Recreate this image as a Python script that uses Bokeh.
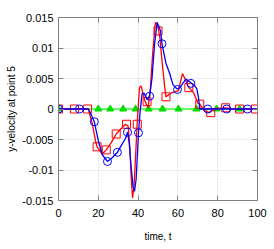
from bokeh.plotting import figure
from bokeh.models import Range1d, FixedTicker, LinearAxis
from bokeh.embed import file_html
from bokeh.resources import INLINE

# red curve (squares)
red_t = [0, 8, 15, 17, 18.6, 19.4, 22, 24, 26.5, 29, 31.5, 33.7, 35, 35.8, 36.5, 37.2, 38, 39, 39.5, 40.7, 41.5, 43.4, 45, 46.2, 47.4, 48.7, 50, 51, 52, 53.4, 54, 57, 60.3, 61.3, 62.3, 63.5, 65.5, 68, 70, 71, 73, 75.5, 79, 84, 88, 91, 99]
red_v = [0, 0, 0, -0.0025, -0.0052, -0.0062, -0.0074, -0.0067, -0.0055, -0.0041, -0.0032, -0.0025, -0.0028, -0.006, -0.011, -0.0146, -0.0125, -0.006, -0.0025, 0.0035, 0.0038, 0.0013, 0.0002, 0.0035, 0.0095, 0.0142, 0.0136, 0.0115, 0.0079, 0.0035, 0.002, 0.0027, 0.003, 0.0045, 0.0058, 0.005, 0.0035, 0.0026, 0.001, 0.0008, -0.0002, -0.0006, 0.0001, 0.0002, 0.0, 0.0, 0.0]
red_mt = [0, 8, 14.6, 19.4, 24, 29, 34.2, 39.6, 44.5, 50, 54, 65.5, 71, 76.5, 84, 91, 99]
red_mv = [0, 0, 0, -0.0062, -0.0067, -0.0041, -0.0025, -0.0025, 0.0012, 0.0128, 0.002, 0.0035, 0.0008, -0.0006, 0.0002, 0.0, 0.0]

# blue curve (circles)
blue_t = [0, 10.5, 15, 16, 18, 20, 22, 24.6, 27, 29.6, 31.5, 33.7, 34.7, 35.5, 36.5, 37.5, 38.2, 39, 40.2, 41, 42, 43, 44.5, 45.8, 47, 48.3, 49.6, 51.3, 52, 54, 56, 57.5, 59.5, 61, 62.5, 64, 66.5, 68.5, 69.5, 70.3, 71, 75, 84.5, 95, 100]
blue_v = [0, 0, 0, -0.0006, -0.0021, -0.0052, -0.0075, -0.0086, -0.008, -0.0071, -0.006, -0.0048, -0.0038, -0.0055, -0.0095, -0.0128, -0.0135, -0.0115, -0.0039, -0.0005, 0.0025, 0.0026, 0.0016, 0.0021, 0.0051, 0.0107, 0.0142, 0.0128, 0.0107, 0.0075, 0.0057, 0.004, 0.0033, 0.0035, 0.0042, 0.0049, 0.0043, 0.0038, 0.0033, 0.002, 0.0, 0.0, 0.0, 0.0, 0.0]
blue_mt = [0, 10.5, 18, 24.6, 29.6, 34.7, 40.2, 45.8, 52, 59.8, 66.5, 75, 84.5, 95]
blue_mv = [0, 0, -0.0021, -0.0086, -0.0071, -0.0038, -0.0039, 0.0021, 0.0107, 0.0032, 0.0042, 0.0, 0.0, 0.0]

# green curve (triangles)
green_t = [0, 20, 26, 32.5, 38.7, 45.3, 52.3, 60.3, 69.3, 79.4, 91]
green_v = [0, 0, 0, 0, 0, 0, 0, 0, 0, 0, 0]

x_ticks = [0, 20, 40, 60, 80, 100]
y_ticks = [-0.015, -0.01, -0.005, 0, 0.005, 0.01, 0.015]
y_labels = ["-0.015", "-0.01", "-0.005", "0", "0.005", "0.01", "0.015"]

FONT = "Liberation Sans"
GRAY = "#808080"

p = figure(frame_width=199, frame_height=183, x_range=Range1d(0, 100), y_range=Range1d(-0.015, 0.015),
           output_backend="svg", toolbar_location=None,
           min_border_left=58, min_border_right=17, min_border_top=17, min_border_bottom=49)
p.outline_line_color = GRAY
p.background_fill_color = "white"
p.border_fill_color = "white"

for ax in (p.xaxis[0], p.yaxis[0]):
    ax.axis_line_color = GRAY
    ax.major_tick_line_color = GRAY
    ax.major_tick_in = 5
    ax.major_tick_out = 0
    ax.minor_tick_line_color = None
    ax.major_label_text_font = FONT
    ax.major_label_text_font_size = "11px"
    ax.major_label_text_color = "black"
    ax.axis_label_text_font = FONT
    ax.axis_label_text_font_size = "10px"
    ax.axis_label_text_font_style = "normal"
    ax.axis_label_text_color = "black"

p.xaxis.ticker = FixedTicker(ticks=x_ticks)
p.yaxis.ticker = FixedTicker(ticks=y_ticks)
p.yaxis.major_label_overrides = {t: l for t, l in zip(y_ticks, y_labels)}
p.xaxis.axis_label = "time, t"
p.yaxis.axis_label = "y-velocity at point 5"
p.xaxis.major_label_standoff = 8
p.yaxis.major_label_standoff = 5
p.xaxis.axis_label_standoff = 11
p.yaxis.axis_label_standoff = 2

for loc, ticks in (("above", x_ticks), ("right", y_ticks)):
    ax = LinearAxis(ticker=FixedTicker(ticks=ticks))
    ax.axis_line_color = GRAY
    ax.major_tick_line_color = GRAY
    ax.major_tick_in = 5
    ax.major_tick_out = 0
    ax.minor_tick_line_color = None
    ax.major_label_overrides = {t: "" for t in ticks}
    ax.major_label_text_font_size = "1px"
    ax.major_label_standoff = 0
    p.add_layout(ax, loc)

p.xgrid.ticker = FixedTicker(ticks=x_ticks)
p.ygrid.ticker = FixedTicker(ticks=y_ticks)
for g in (p.xgrid[0], p.ygrid[0]):
    g.grid_line_color = "#c8c8c8"
    g.grid_line_dash = "1 2"
    g.grid_line_width = 1

p.line(green_t, green_v, line_color="#33ff33", line_width=1.5)
p.scatter(green_t, green_v, marker="triangle", size=7, fill_color="#00dd00", line_color="#00dd00")

p.line(red_t, red_v, line_color="#ff0000", line_width=1.3)
p.scatter(red_mt, red_mv, marker="square", size=8, fill_color=None, line_color="#ff0000", line_width=1)

p.line(blue_t, blue_v, line_color="#0000ff", line_width=1.3)
p.scatter(blue_mt, blue_mv, marker="circle", size=8, fill_color=None, line_color="#0000ff", line_width=1)

open("out.html", "w").write(file_html(p, INLINE))
